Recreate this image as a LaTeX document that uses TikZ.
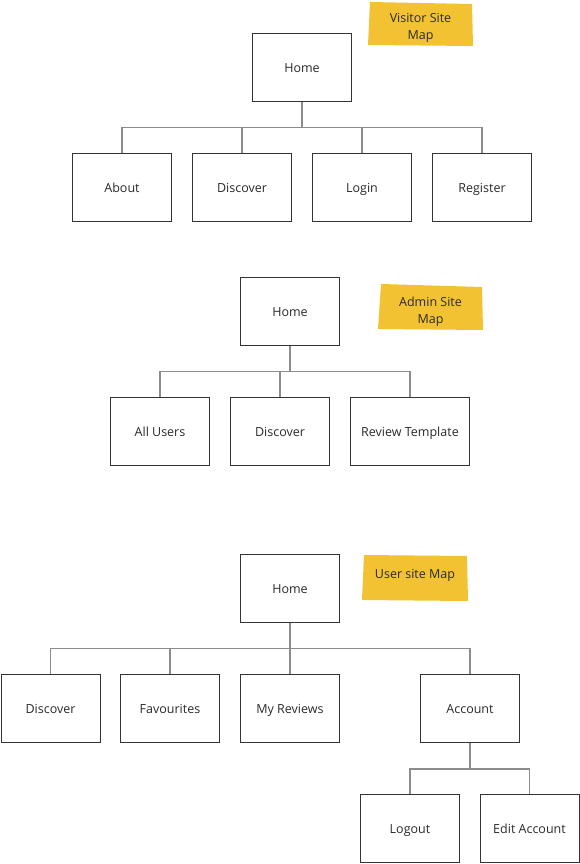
\documentclass[tikz,border=0pt]{standalone}
\usepackage{fontspec}
\setmainfont{Open Sans}
\definecolor{boxline}{HTML}{333333}
\definecolor{txt}{HTML}{2A2A2A}
\definecolor{linkgray}{HTML}{8C8C8C}
\definecolor{sticky}{HTML}{F2C232}
\begin{document}
\begin{tikzpicture}[x=1pt,y=-1pt,
  pagebox/.style={draw=boxline,line width=1pt,fill=white,minimum width=99pt,minimum height=68pt,inner sep=0pt,
    font=\fontsize{12.5}{15}\selectfont,text=txt,text height=11pt,text depth=1pt},
  widebox/.style={pagebox,minimum width=119pt},
  link/.style={draw=linkgray,line width=1.4pt},
  notetext/.style={font=\fontsize{12.5}{17}\selectfont,text=txt,align=center,inner sep=0pt}]
\useasboundingbox (0,0) rectangle (580,864);
\fill[white] (0,0) rectangle (580,864);

% ---------- Visitor site map ----------
\fill[sticky] (370,2) -- (472,4) -- (473,46) -- (368,45) -- cycle;
\node[notetext] (vnote) at (420.5,28) {Visitor Site\\Map};
\coordinate (vbus) at (0,127.5);
\node[pagebox] (vhome) at (302,67.5) {Home};
\node[pagebox] (vabout) at (122,187.5) {About};
\node[pagebox] (vdisc) at (242,187.5) {Discover};
\node[pagebox] (vlogin) at (362,187.5) {Login};
\node[pagebox] (vreg) at (482,187.5) {Register};
\draw[link] (vhome.south) -- (vhome.south |- vbus);
\draw[link] (vabout.north) -- (vabout.north |- vbus) -| (vreg.north);
\draw[link] (vdisc.north) -- (vdisc.north |- vbus);
\draw[link] (vlogin.north) -- (vlogin.north |- vbus);

% ---------- Admin site map ----------
\fill[sticky] (381,284) -- (482,287) -- (483,330) -- (378,329) -- cycle;
\node[notetext] (anote) at (430.5,311.5) {Admin Site\\Map};
\coordinate (abus) at (0,371.5);
\node[pagebox] (ahome) at (290,311.5) {Home};
\node[pagebox] (ausers) at (160,431.5) {All Users};
\node[pagebox] (adisc) at (280,431.5) {Discover};
\node[widebox] (arev) at (410,431.5) {Review Template};
\draw[link] (ahome.south) -- (ahome.south |- abus);
\draw[link] (ausers.north) -- (ausers.north |- abus) -| (arev.north);
\draw[link] (adisc.north) -- (adisc.north |- abus);

% ---------- User site map ----------
\fill[sticky] (364,555) -- (467,556) -- (468,601) -- (362,600) -- cycle;
\node[notetext] (unote) at (415,575) {User site Map};
\coordinate (ubus) at (0,648.5);
\coordinate (acbus) at (0,769);
\node[pagebox] (uhome) at (290,588.5) {Home};
\node[pagebox] (udisc) at (50.5,708.5) {Discover};
\node[pagebox] (ufav) at (170,708.5) {Favourites};
\node[pagebox] (urev) at (290,708.5) {My Reviews};
\node[pagebox] (uacc) at (470,708.5) {Account};
\node[pagebox] (ulogout) at (410,828.5) {Logout};
\node[pagebox] (uedit) at (529.5,828.5) {Edit Account};
\draw[link] (uhome.south) -- (uhome.south |- ubus);
\draw[link] (udisc.north) -- (udisc.north |- ubus) -| (uacc.north);
\draw[link] (ufav.north) -- (ufav.north |- ubus);
\draw[link] (urev.north) -- (urev.north |- ubus);
\draw[link] (uacc.south) -- (uacc.south |- acbus);
\draw[link] (ulogout.north) -- (ulogout.north |- acbus) -| (uedit.north);
\end{tikzpicture}
\end{document}
